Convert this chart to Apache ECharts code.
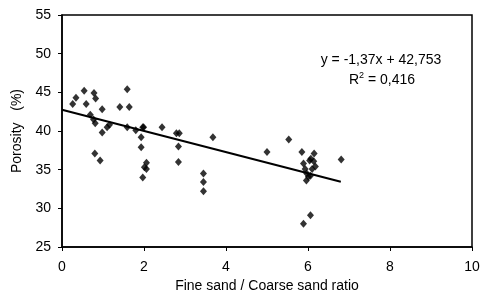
<!DOCTYPE html>
<html>
<head>
<meta charset="utf-8">
<script src="https://cdn.jsdelivr.net/npm/echarts@6/dist/echarts.min.js"></script>
<style>
  html, body { margin: 0; padding: 0; background: #fff; }
  #chart { width: 480px; height: 295px; }
</style>
</head>
<body>
<div id="chart"></div>
<script>
// fine/coarse sand ratio (x) and porosity % (y)
const ratio = [
  0.26, 0.34, 0.54, 0.59, 0.78, 0.82, 0.69, 0.77, 0.81, 0.98,
  0.98, 1.10, 1.16, 1.41, 1.64, 1.59, 1.59, 1.80, 1.97, 1.93,
  1.93, 0.80, 0.93, 2.06, 2.01, 2.06, 1.97, 1.99, 2.44, 2.79,
  2.86, 3.68, 2.84, 2.84, 3.45, 3.45, 3.45, 5.00, 5.53, 5.85,
  6.15, 6.81, 5.89, 6.07, 6.14, 6.18, 6.10, 5.93, 5.97, 6.01,
  5.96, 6.06, 6.06, 5.89, 6.04
]
const porosity = [
  43.5, 44.3, 45.2, 43.5, 44.9, 44.2, 42.1, 41.5, 41.0, 42.8,
  39.8, 40.5, 40.8, 43.1, 43.1, 45.4, 40.5, 40.1, 40.5, 39.2,
  37.9, 37.1, 36.2, 35.9, 35.3, 35.1, 34.0, 40.5, 40.5, 39.7,
  39.7, 39.2, 38.0, 36.0, 34.5, 33.4, 32.2, 37.3, 38.9, 37.3,
  37.1, 36.3, 35.8, 36.4, 36.1, 35.4, 35.1, 35.1, 34.5, 34.1,
  33.6, 34.2, 29.1, 28.0, 36.2
]
// linear fit shown on the chart
const slope = -1.37
const intercept = 42.753
const fitRange = [0, 6.8]

const xTicks = { min: 0, max: 10, interval: 2 }
const yTicks = { min: 25, max: 55, interval: 5 }

const points = ratio.map((x, i) => [x, porosity[i]])
const fitLine = fitRange.map(x => [x, intercept + slope * x])

const chart = echarts.init(document.getElementById('chart'))
const font = 'Liberation Sans, Arial, sans-serif'
chart.setOption({
  animation: false,
  grid: {
    left: 62,
    right: 8,
    top: 15,
    bottom: 48,
    show: true,
    borderColor: '#000',
    borderWidth: 1.5,
    outerBoundsMode: 'none',
    containLabel: false
  },
  xAxis: {
    type: 'value',
    min: xTicks.min,
    max: xTicks.max,
    interval: xTicks.interval,
    name: 'Fine sand / Coarse sand ratio',
    nameLocation: 'middle',
    nameGap: 31,
    nameTextStyle: { color: '#000', fontSize: 14, fontFamily: font },
    axisLine: { lineStyle: { color: '#000', width: 1.5 } },
    axisTick: { inside: false, length: 4, lineStyle: { color: '#000' } },
    axisLabel: { color: '#000', fontSize: 14, fontFamily: font, margin: 13 },
    splitLine: { show: false }
  },
  yAxis: {
    type: 'value',
    min: yTicks.min,
    max: yTicks.max,
    interval: yTicks.interval,
    name: 'Porosity   (%)',
    nameLocation: 'middle',
    nameGap: 36,
    nameTextStyle: { color: '#000', fontSize: 14, fontFamily: font },
    axisLine: { lineStyle: { color: '#000', width: 1.5 } },
    axisTick: { inside: false, length: 4, lineStyle: { color: '#000' } },
    axisLabel: { color: '#000', fontSize: 14, fontFamily: font, margin: 11 },
    splitLine: { show: false }
  },
  graphic: [
    {
      type: 'text',
      x: 381,
      y: 60,
      style: {
        text: 'y = -1,37x + 42,753',
        fill: '#000',
        font: '14px ' + font,
        align: 'center',
        verticalAlign: 'middle'
      }
    },
    {
      type: 'text',
      x: 382,
      y: 79,
      style: {
        text: '{n|R}{s|2}{n| = 0,416}',
        align: 'center',
        verticalAlign: 'middle',
        rich: {
          n: { fill: '#000', fontSize: 14, fontFamily: font, verticalAlign: 'bottom' },
          s: { fill: '#000', fontSize: 9, fontFamily: font, verticalAlign: 'top', padding: [0, 0, 7, 0] }
        }
      }
    }
  ],
  series: [
    {
      type: 'scatter',
      symbol: 'diamond',
      symbolSize: [7, 8],
      itemStyle: { color: '#000' },
      data: points
    },
    {
      type: 'line',
      symbol: 'none',
      lineStyle: { color: '#000', width: 2 },
      data: fitLine
    }
  ]
})
</script>
</body>
</html>
